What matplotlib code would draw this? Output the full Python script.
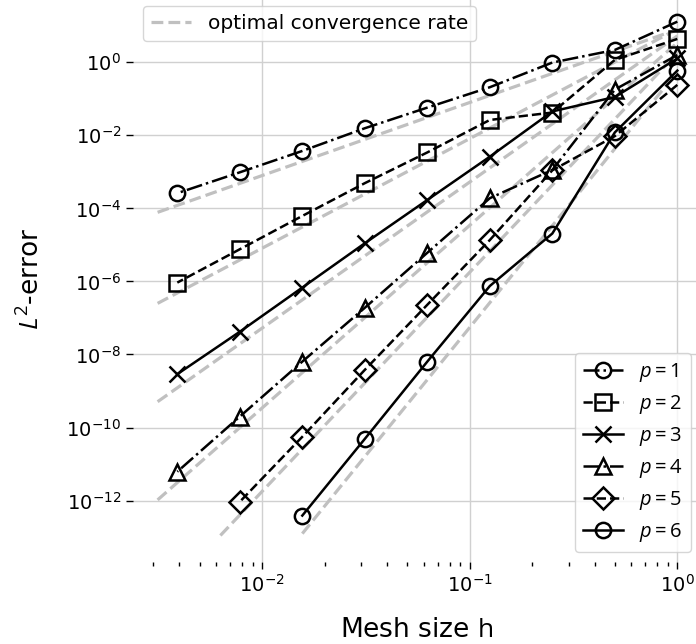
import numpy as np
import matplotlib.pyplot as plt
from matplotlib.ticker import LogLocator, NullFormatter, NullLocator

# mesh sizes h = 1, 1/2, ..., 1/256
h = [1.0, 0.5, 0.25, 0.125, 0.0625, 0.03125, 0.015625, 0.0078125, 0.00390625]

# L2 errors per polynomial degree
err_p1 = [12.9, 2.17, 0.98, 0.207, 0.0573, 0.0156, 3.73e-3, 9.7e-4, 2.6e-4]
err_p2 = [4.34, 1.16, 0.042, 0.0263, 3.4e-3, 4.9e-4, 6.2e-5, 7.6e-6, 9.3e-7]
err_p3 = [1.27, 0.112, 0.045, 2.6e-3, 1.7e-4, 1.11e-5, 6.8e-7, 4.2e-8, 2.9e-9]
err_p4 = [1.58, 0.178, 1.13e-3, 1.9e-4, 6.1e-6, 1.9e-7, 6.4e-9, 2.0e-10,
          6.2e-12]
err_p5 = [0.24, 9.5e-3, 1.1e-3, 1.36e-5, 2.3e-7, 3.8e-9, 5.6e-11, 9.3e-13]
err_p6 = [0.59, 0.0120, 2.05e-5, 7.5e-7, 6.4e-9, 4.9e-11, 3.9e-13]

degrees = [1, 2, 3, 4, 5, 6]
errors = [err_p1, err_p2, err_p3, err_p4, err_p5, err_p6]
markers = ["o", "s", "x", "^", "D", "o"]
styles = ["-.", "--", "-", "-.", "--", "-"]

# optimal rate h^(p+1): constant at h = 1 and first mesh size of the guide
ref_const = [7.9, 8.1, 5.25, 3.43, 1.78, 0.55]
ref_start = [3.14e-3, 3.14e-3, 3.14e-3, 3.14e-3, 6.3e-3, 1.5625e-2]

plt.rcParams["mathtext.fontset"] = "custom"
plt.rcParams["mathtext.rm"] = "Open Sans"
plt.rcParams["mathtext.it"] = "Open Sans:italic"

fig = plt.figure(figsize=(6.96, 6.44), dpi=100)
ax = fig.add_axes([133 / 696, 82 / 644, 568 / 696, 566 / 644])

ref_lines = []
for p, c, h0 in zip(degrees, ref_const, ref_start):
    hh = np.array([h0, 1.0])
    line, = ax.loglog(hh, c * hh ** (p + 1), "--", color="#c0c0c0",
                      linewidth=2.3, zorder=1)
    ref_lines.append(line)

p_lines = []
for p, e, m, ls in zip(degrees, errors, markers, styles):
    line, = ax.loglog(h[:len(e)], e, linestyle=ls, marker=m, color="black",
                      linewidth=1.8, markersize=11, markeredgewidth=1.8,
                      fillstyle="none", zorder=3, label=f"$p={p}$")
    p_lines.append(line)

ax.set_xlim(2.39e-3, 1.3)
ax.set_ylim(2.09e-14, 65)

ax.set_yticks([1e0, 1e-2, 1e-4, 1e-6, 1e-8, 1e-10, 1e-12])
ax.yaxis.set_minor_locator(NullLocator())
ax.xaxis.set_major_locator(LogLocator(base=10))
ax.xaxis.set_minor_locator(LogLocator(base=10, subs=np.arange(2, 10)))
ax.xaxis.set_minor_formatter(NullFormatter())

for s in ax.spines.values():
    s.set_visible(False)
ax.grid(True, which="major", color="#d0d0d0", linewidth=1.0)
ax.set_axisbelow(True)
ax.tick_params(which="major", direction="out", length=5, width=1,
               labelsize=14, color="black")
ax.tick_params(which="minor", direction="out", length=3, width=1,
               color="black")

ax.set_xlabel(r"Mesh size $\mathrm{h}$", fontsize=19, labelpad=15)
ax.set_ylabel(r"$L^2$-error", fontsize=19, labelpad=15)

leg1 = ax.legend([ref_lines[0]], ["optimal convergence rate"],
                 loc="upper left", fontsize=14.5)
ax.add_artist(leg1)
ax.legend(handles=p_lines, loc="lower right", fontsize=14.5,
          labelspacing=0.45, handletextpad=0.8)

plt.savefig("out.png", dpi=100)
